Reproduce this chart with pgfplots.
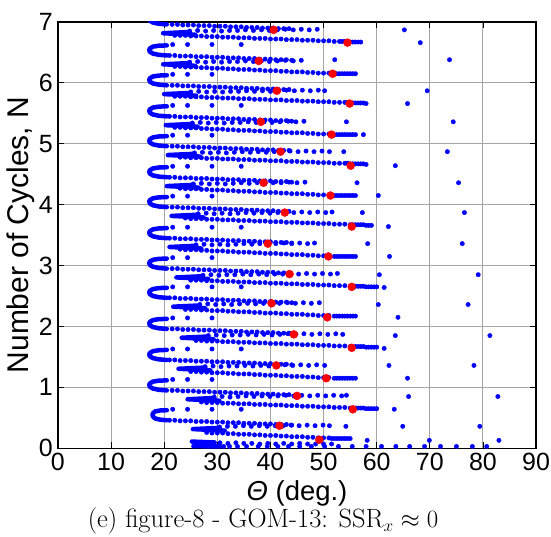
\documentclass[border=0pt]{standalone}
\usepackage{pgfplots}
\pgfplotsset{compat=1.18}
\usepackage{fontspec}
\newfontfamily\arial{Liberation Sans}

\pgfplotsset{
  dots/.style={only marks, mark=*, mark size=2.2pt, color=blue, mark options={fill=blue, draw=blue}, forget plot},
  dense/.style={blue, line width=4.5pt, line cap=round, line join=round, no marks, unbounded coords=jump, forget plot},
}

\begin{document}
\begin{tikzpicture}
\begin{axis}[
    width=479pt, height=427pt, scale only axis,
    xmin=0, xmax=90, ymin=0, ymax=7,
    xtick={0,10,...,90}, ytick={0,1,...,7},
    grid=major,
    major grid style={line width=1pt, color=black!35},
    tick align=inside, major tick length=6pt,
    every tick/.style={black, line width=0.8pt},
    axis line style={line width=1.3pt},
    /pgf/number format/assume math mode=true,
    ticklabel style={font=\arial\fontsize{25}{28}\selectfont, inner sep=1pt},
    xticklabel style={yshift=-4pt},
    yticklabel style={xshift=-4pt},
    xlabel={{\itshape Θ} (deg.)},
    ylabel={Number of Cycles, N},
    xlabel style={font=\arial\fontsize{27.5}{30}\selectfont, inner sep=0pt, at={(axis description cs:0.5,-0.107)}, anchor=center},
    ylabel style={font=\arial\fontsize{30}{33}\selectfont, inner sep=0pt, at={(axis description cs:-0.077,0.5)}, anchor=center},
]

% hooks (left) and tongues, dense parts
\addplot[dense] coordinates {
 (20.5,7.125) (19.0,7.12) (17.9,7.105) (17.3,7.075) (17.2,7.05) (17.3,7.02) (17.9,6.99) (19.0,6.97) (20.5,6.96) (0,nan)
 (20.5,6.615) (19.0,6.61) (17.9,6.595) (17.3,6.565) (17.2,6.54) (17.3,6.51) (17.9,6.48) (19.0,6.46) (20.5,6.45) (0,nan)
 (20.5,6.125) (19.0,6.12) (17.9,6.105) (17.3,6.075) (17.2,6.05) (17.3,6.02) (17.9,5.99) (19.0,5.97) (20.5,5.96) (0,nan)
 (20.5,5.615) (19.0,5.61) (17.9,5.595) (17.3,5.565) (17.2,5.54) (17.3,5.51) (17.9,5.48) (19.0,5.46) (20.5,5.45) (0,nan)
 (20.5,5.125) (19.0,5.12) (17.9,5.105) (17.3,5.075) (17.2,5.05) (17.3,5.02) (17.9,4.99) (19.0,4.97) (20.5,4.96) (0,nan)
 (20.5,4.615) (19.0,4.61) (17.9,4.595) (17.3,4.565) (17.2,4.54) (17.3,4.51) (17.9,4.48) (19.0,4.46) (20.5,4.45) (0,nan)
 (20.5,4.125) (19.0,4.12) (17.9,4.105) (17.3,4.075) (17.2,4.05) (17.3,4.02) (17.9,3.99) (19.0,3.97) (20.5,3.96) (0,nan)
 (20.5,3.615) (19.0,3.61) (17.9,3.595) (17.3,3.565) (17.2,3.54) (17.3,3.51) (17.9,3.48) (19.0,3.46) (20.5,3.45) (0,nan)
 (20.5,3.115) (19.0,3.11) (17.9,3.095) (17.3,3.065) (17.2,3.04) (17.3,3.01) (17.9,2.98) (19.0,2.96) (20.5,2.95) (0,nan)
 (20.5,2.635) (19.0,2.63) (17.9,2.615) (17.3,2.585) (17.2,2.56) (17.3,2.53) (17.9,2.50) (19.0,2.48) (20.5,2.47) (0,nan)
 (20.5,2.125) (19.0,2.12) (17.9,2.105) (17.3,2.075) (17.2,2.05) (17.3,2.02) (17.9,1.99) (19.0,1.97) (20.5,1.96) (0,nan)
 (20.5,1.615) (19.0,1.61) (17.9,1.595) (17.3,1.565) (17.2,1.54) (17.3,1.51) (17.9,1.48) (19.0,1.46) (20.5,1.45) (0,nan)
 (20.5,1.115) (19.0,1.11) (17.9,1.095) (17.3,1.065) (17.2,1.04) (17.3,1.01) (17.9,0.98) (19.0,0.96) (20.5,0.95) (0,nan)
 (20.5,0.625) (19.2,0.62) (18.3,0.605) (17.9,0.575) (17.8,0.55) (17.9,0.52) (18.3,0.49) (19.2,0.47) (20.5,0.46) (0,nan)
 (24.8,6.835) (19.8,6.815) (25.8,6.79) (0,nan)
 (24.8,6.325) (19.8,6.305) (25.8,6.28) (0,nan)
 (25.0,5.835) (20.0,5.815) (26.0,5.79) (0,nan)
 (25.3,5.325) (20.3,5.305) (26.3,5.28) (0,nan)
 (25.7,4.835) (20.7,4.815) (26.7,4.79) (0,nan)
 (25.5,4.325) (20.5,4.305) (26.5,4.28) (0,nan)
 (26.4,3.835) (21.4,3.815) (27.4,3.79) (0,nan)
 (26.0,3.325) (21.0,3.305) (27.0,3.28) (0,nan)
 (27.3,2.825) (22.3,2.805) (28.3,2.78) (0,nan)
 (26.7,2.345) (21.7,2.325) (27.7,2.30) (0,nan)
 (28.3,1.835) (23.3,1.815) (29.3,1.79) (0,nan)
 (27.7,1.325) (22.7,1.305) (28.7,1.28) (0,nan)
 (29.4,0.825) (24.4,0.805) (30.4,0.78) (0,nan)
 (30.4,0.335) (25.4,0.315) (31.4,0.29) (0,nan)
 (25.2,0.11) (29.5,0.095) (0,nan)
 (25.5,0.035) (30.5,0.03)
};

% half-cycle at N ~ 7
\addplot[dots] coordinates {
 (21.5,6.96) (22.5,6.96) (23.5,6.95) (24.5,6.95) (25.5,6.95) (26.5,6.94) (27.5,6.94) (28.5,6.94) (29.5,6.93) (30.5,6.93) (31.5,6.93) (32.5,6.92) (33.5,6.92) (34.5,6.92) (35.5,6.91) (36.5,6.91) (37.5,6.91) (38.5,6.90) (39.5,6.90) (40.5,6.90) (41.5,6.89) (42.5,6.89) (43.5,6.89)
 (24.8,6.85) (26.3,6.86) (27.8,6.85) (29.3,6.86) (30.8,6.85) (32.3,6.86) (33.8,6.86) (35.3,6.87) (36.8,6.86) (38.3,6.87) (39.8,6.86) (41.3,6.87) (42.8,6.88) (44.3,6.87) (45.8,6.88) (47.3,6.87) (48.8,6.88)
 (22,6.78) (23,6.78) (24,6.78) (25,6.77) (26,6.77) (27,6.77) (28,6.76) (29,6.76) (30,6.76) (31,6.75) (32,6.75) (33,6.75) (34,6.74) (35,6.74) (36,6.74) (37,6.73) (38,6.73) (39,6.73) (40,6.72) (41,6.72) (42,6.72) (43,6.71) (44,6.71) (45,6.71) (46,6.70) (47,6.70) (48,6.70) (49,6.69) (50,6.69) (51,6.69) (52,6.68) (53,6.68) (54,6.68) (55,6.67) (56,6.67) (57,6.67) (53.5,6.68) (54.5,6.68) (55.5,6.67) (56.5,6.67)
};
% N ~ 6.5
\addplot[dots] coordinates {
 (21.6,6.63) (24.4,6.63) (29.0,6.63) (34.5,6.63)
 (21,6.45) (22,6.45) (23,6.44) (24,6.44) (25,6.44) (26,6.43) (27,6.43) (28,6.43) (29,6.42) (30,6.42) (31,6.42) (32,6.41) (33,6.41) (34,6.41) (35,6.40) (36,6.40) (37,6.40) (38,6.39) (39,6.39) (40,6.39) (41,6.38) (42,6.38) (43,6.38) (44,6.37)
 (24.8,6.34) (26.3,6.35) (27.8,6.34) (29.3,6.35) (30.8,6.34) (32.3,6.35) (33.8,6.35) (35.3,6.36) (36.8,6.35) (38.3,6.36) (39.8,6.35) (41.3,6.36) (42.8,6.37) (44.3,6.36) (45.8,6.37)
 (22,6.27) (23,6.27) (24,6.26) (25,6.26) (26,6.26) (27,6.25) (28,6.25) (29,6.24) (30,6.24) (31,6.24) (32,6.23) (33,6.23) (34,6.22) (35,6.22) (36,6.22) (37,6.21) (38,6.21) (39,6.20) (40,6.20) (41,6.20) (42,6.19) (43,6.19) (44,6.18) (45,6.18) (46,6.18) (47,6.17) (48,6.17) (49,6.16) (50,6.16) (51,6.16) (52,6.15) (53,6.15) (54,6.15) (55,6.15) (56,6.15) (52.5,6.15) (53.5,6.15) (54.5,6.15) (55.5,6.15)
};
% N ~ 6
\addplot[dots] coordinates {
 (21.6,6.14) (24.4,6.14) (29.0,6.14)
 (21.5,5.96) (22.5,5.96) (23.5,5.95) (24.5,5.95) (25.5,5.95) (26.5,5.94) (27.5,5.94) (28.5,5.94) (29.5,5.93) (30.5,5.93) (31.5,5.93) (32.5,5.92) (33.5,5.92) (34.5,5.92) (35.5,5.91) (36.5,5.91) (37.5,5.91) (38.5,5.90) (39.5,5.90) (40.5,5.90) (41.5,5.89) (42.5,5.89) (43.5,5.89)
 (25.0,5.85) (26.5,5.86) (28.0,5.85) (29.5,5.86) (31.0,5.85) (32.5,5.86) (34.0,5.86) (35.5,5.87) (37.0,5.86) (38.5,5.87) (40.0,5.86) (41.5,5.87) (43.0,5.88) (44.5,5.87) (46.0,5.88) (47.5,5.87) (49.0,5.88) (50.2,5.87)
 (22,5.78) (23,5.78) (24,5.78) (25,5.77) (26,5.77) (27,5.77) (28,5.76) (29,5.76) (30,5.76) (31,5.75) (32,5.75) (33,5.75) (34,5.74) (35,5.74) (36,5.74) (37,5.73) (38,5.73) (39,5.73) (40,5.72) (41,5.72) (42,5.72) (43,5.71) (44,5.71) (45,5.71) (46,5.70) (47,5.70) (48,5.70) (49,5.69) (50,5.69) (51,5.69) (52,5.68) (53,5.68) (54,5.68) (55,5.67) (56,5.67) (57,5.67) (58,5.66) (54.5,5.68) (55.5,5.67) (56.5,5.67) (57.5,5.67)
};
% N ~ 5.5
\addplot[dots] coordinates {
 (21.6,5.63) (24.4,5.63) (29.0,5.63) (34.5,5.63)
 (21,5.45) (22,5.45) (23,5.44) (24,5.44) (25,5.44) (26,5.43) (27,5.43) (28,5.43) (29,5.42) (30,5.42) (31,5.42) (32,5.41) (33,5.41) (34,5.41) (35,5.40) (36,5.40) (37,5.40) (38,5.39) (39,5.39) (40,5.39) (41,5.38) (42,5.38) (43,5.38) (44,5.37)
 (25.3,5.34) (26.8,5.35) (28.3,5.34) (29.8,5.35) (31.3,5.34) (32.8,5.35) (34.3,5.35) (35.8,5.36) (37.3,5.35) (38.8,5.36) (40.3,5.35) (41.8,5.36) (43.3,5.37) (44.8,5.36) (46.3,5.37)
 (22,5.27) (23,5.27) (24,5.26) (25,5.26) (26,5.26) (27,5.25) (28,5.25) (29,5.24) (30,5.24) (31,5.24) (32,5.23) (33,5.23) (34,5.22) (35,5.22) (36,5.22) (37,5.21) (38,5.21) (39,5.20) (40,5.20) (41,5.20) (42,5.19) (43,5.19) (44,5.18) (45,5.18) (46,5.18) (47,5.17) (48,5.17) (49,5.16) (50,5.16) (51,5.16) (52,5.15) (53,5.15) (54,5.15) (55,5.15) (56,5.15) (52.5,5.15) (53.5,5.15) (54.5,5.15) (55.5,5.15)
};
% N ~ 5
\addplot[dots] coordinates {
 (21.6,5.14) (24.4,5.14) (29.0,5.14)
 (21.5,4.96) (22.5,4.96) (23.5,4.95) (24.5,4.95) (25.5,4.95) (26.5,4.94) (27.5,4.94) (28.5,4.94) (29.5,4.93) (30.5,4.93) (31.5,4.93) (32.5,4.92) (33.5,4.92) (34.5,4.92) (35.5,4.91) (36.5,4.91) (37.5,4.91) (38.5,4.90) (39.5,4.90) (40.5,4.90) (41.5,4.89) (42.5,4.89) (43.5,4.89)
 (25.7,4.85) (27.2,4.86) (28.7,4.85) (30.2,4.86) (31.7,4.85) (33.2,4.86) (34.7,4.87) (36.2,4.86) (37.7,4.87) (39.2,4.86) (40.7,4.87) (42.2,4.87) (43.7,4.88) (45.2,4.87) (46.7,4.88) (48.2,4.87) (49.7,4.88) (51.1,4.87)
 (23,4.78) (24,4.78) (25,4.77) (26,4.77) (27,4.77) (28,4.76) (29,4.76) (30,4.76) (31,4.75) (32,4.75) (33,4.75) (34,4.74) (35,4.74) (36,4.74) (37,4.73) (38,4.73) (39,4.73) (40,4.72) (41,4.72) (42,4.72) (43,4.71) (44,4.71) (45,4.71) (46,4.70) (47,4.70) (48,4.70) (49,4.69) (50,4.69) (51,4.69) (52,4.68) (53,4.68) (54,4.68) (55,4.67) (56,4.67) (57,4.67) (58,4.66) (54.5,4.68) (55.5,4.67) (56.5,4.67) (57.5,4.67)
};
% N ~ 4.5
\addplot[dots] coordinates {
 (21.6,4.63) (24.4,4.63) (29.0,4.63) (34.5,4.63)
 (21,4.45) (22,4.45) (23,4.44) (24,4.44) (25,4.44) (26,4.43) (27,4.43) (28,4.43) (29,4.42) (30,4.42) (31,4.42) (32,4.41) (33,4.41) (34,4.41) (35,4.40) (36,4.40) (37,4.40) (38,4.39) (39,4.39) (40,4.39) (41,4.38) (42,4.38) (43,4.38) (44,4.37)
 (25.5,4.34) (27.0,4.35) (28.5,4.34) (30.0,4.35) (31.5,4.34) (33.0,4.35) (34.5,4.36) (36.0,4.35) (37.5,4.36) (39.0,4.35) (40.5,4.36) (42.0,4.36) (43.5,4.37) (45.0,4.36) (46.5,4.37)
 (23,4.27) (24,4.26) (25,4.26) (26,4.26) (27,4.25) (28,4.25) (29,4.24) (30,4.24) (31,4.24) (32,4.23) (33,4.23) (34,4.22) (35,4.22) (36,4.22) (37,4.21) (38,4.21) (39,4.20) (40,4.20) (41,4.20) (42,4.19) (43,4.19) (44,4.18) (45,4.18) (46,4.18) (47,4.17) (48,4.17) (49,4.16) (50,4.16) (51,4.16) (52,4.15) (53,4.15) (54,4.15) (55,4.15) (56,4.15) (52.5,4.15) (53.5,4.15) (54.5,4.15) (55.5,4.15)
};
% N ~ 4
\addplot[dots] coordinates {
 (21.6,4.14) (24.4,4.14) (29.0,4.14)
 (21.5,3.96) (22.5,3.96) (23.5,3.95) (24.5,3.95) (25.5,3.95) (26.5,3.94) (27.5,3.94) (28.5,3.94) (29.5,3.93) (30.5,3.93) (31.5,3.93) (32.5,3.92) (33.5,3.92) (34.5,3.92) (35.5,3.91) (36.5,3.91) (37.5,3.91) (38.5,3.90) (39.5,3.90) (40.5,3.90) (41.5,3.89) (42.5,3.89) (43.5,3.89)
 (26.4,3.85) (27.9,3.86) (29.4,3.85) (30.9,3.86) (32.4,3.85) (33.9,3.86) (35.4,3.87) (36.9,3.86) (38.4,3.87) (39.9,3.86) (41.4,3.87) (42.9,3.88) (44.4,3.87) (45.9,3.88) (47.4,3.87) (48.9,3.88) (50.4,3.87) (51.6,3.88)
 (24,3.78) (25,3.77) (26,3.77) (27,3.77) (28,3.76) (29,3.76) (30,3.76) (31,3.75) (32,3.75) (33,3.75) (34,3.74) (35,3.74) (36,3.74) (37,3.73) (38,3.73) (39,3.73) (40,3.72) (41,3.72) (42,3.72) (43,3.71) (44,3.71) (45,3.71) (46,3.70) (47,3.70) (48,3.70) (49,3.69) (50,3.69) (51,3.69) (52,3.68) (53,3.68) (54,3.68) (55,3.67) (56,3.67) (57,3.67) (58,3.66) (59,3.66) (55.5,3.67) (56.5,3.67) (57.5,3.67) (58.5,3.66)
};
% N ~ 3.5
\addplot[dots] coordinates {
 (21.6,3.63) (24.4,3.63) (29.0,3.63) (34.5,3.63)
 (21,3.45) (22,3.45) (23,3.44) (24,3.44) (25,3.44) (26,3.43) (27,3.43) (28,3.43) (29,3.42) (30,3.42) (31,3.42) (32,3.41) (33,3.41) (34,3.41) (35,3.40) (36,3.40) (37,3.40) (38,3.39) (39,3.39) (40,3.39) (41,3.38) (42,3.38) (43,3.38) (44,3.37)
 (26.0,3.34) (27.5,3.35) (29.0,3.34) (30.5,3.35) (32.0,3.34) (33.5,3.35) (35.0,3.36) (36.5,3.35) (38.0,3.36) (39.5,3.35) (41.0,3.36) (42.5,3.37) (44.0,3.36) (45.5,3.37) (47.0,3.36) (48.3,3.37)
 (23,3.27) (24,3.26) (25,3.26) (26,3.26) (27,3.25) (28,3.25) (29,3.24) (30,3.24) (31,3.24) (32,3.23) (33,3.23) (34,3.22) (35,3.22) (36,3.22) (37,3.21) (38,3.21) (39,3.20) (40,3.20) (41,3.20) (42,3.19) (43,3.19) (44,3.18) (45,3.18) (46,3.18) (47,3.17) (48,3.17) (49,3.16) (50,3.16) (51,3.16) (52,3.15) (53,3.15) (54,3.15) (55,3.15) (56,3.15) (52.5,3.15) (53.5,3.15) (54.5,3.15) (55.5,3.15)
};
% N ~ 3
\addplot[dots] coordinates {
 (21.6,3.13) (24.4,3.13) (29.0,3.13)
 (21.5,2.95) (22.5,2.95) (23.5,2.94) (24.5,2.94) (25.5,2.94) (26.5,2.93) (27.5,2.93) (28.5,2.93) (29.5,2.92) (30.5,2.92) (31.5,2.92) (32.5,2.91) (33.5,2.91) (34.5,2.91) (35.5,2.90) (36.5,2.90) (37.5,2.90) (38.5,2.89) (39.5,2.89) (40.5,2.89) (41.5,2.88) (42.5,2.88) (43.5,2.88)
 (27.3,2.84) (28.8,2.85) (30.3,2.84) (31.8,2.85) (33.3,2.85) (34.8,2.86) (36.3,2.85) (37.8,2.86) (39.3,2.85) (40.8,2.86) (42.3,2.86) (43.8,2.87) (45.3,2.86) (46.8,2.87) (48.3,2.86) (49.8,2.87) (51.3,2.86) (52.6,2.87)
 (25,2.76) (26,2.76) (27,2.76) (28,2.75) (29,2.75) (30,2.75) (31,2.74) (32,2.74) (33,2.74) (34,2.73) (35,2.73) (36,2.73) (37,2.72) (38,2.72) (39,2.72) (40,2.71) (41,2.71) (42,2.71) (43,2.70) (44,2.70) (45,2.70) (46,2.69) (47,2.69) (48,2.69) (49,2.68) (50,2.68) (51,2.68) (52,2.67) (53,2.67) (54,2.67) (55,2.66) (56,2.66) (57,2.66) (58,2.65) (59,2.65) (60,2.65) (56.5,2.66) (57.5,2.66) (58.5,2.65) (59.5,2.65)
};
% N ~ 2.5
\addplot[dots] coordinates {
 (21.6,2.65) (24.4,2.65) (29.0,2.65) (34.5,2.65)
 (21,2.47) (22,2.47) (23,2.46) (24,2.46) (25,2.46) (26,2.45) (27,2.45) (28,2.45) (29,2.44) (30,2.44) (31,2.44) (32,2.43) (33,2.43) (34,2.43) (35,2.42) (36,2.42) (37,2.42) (38,2.41) (39,2.41) (40,2.41) (41,2.40) (42,2.40) (43,2.40) (44,2.39)
 (26.7,2.36) (28.2,2.37) (29.7,2.36) (31.2,2.37) (32.7,2.36) (34.2,2.37) (35.7,2.38) (37.2,2.37) (38.7,2.38) (40.2,2.37) (41.7,2.38) (43.2,2.39) (44.7,2.38) (46.2,2.39) (47.7,2.38) (49.2,2.39)
 (24,2.28) (25,2.28) (26,2.28) (27,2.27) (28,2.27) (29,2.26) (30,2.26) (31,2.26) (32,2.25) (33,2.25) (34,2.24) (35,2.24) (36,2.24) (37,2.23) (38,2.23) (39,2.22) (40,2.22) (41,2.22) (42,2.21) (43,2.21) (44,2.20) (45,2.20) (46,2.20) (47,2.19) (48,2.19) (49,2.18) (50,2.18) (51,2.18) (52,2.17) (53,2.17) (54,2.17) (55,2.17) (56,2.17) (52.5,2.17) (53.5,2.17) (54.5,2.17) (55.5,2.17)
};
% N ~ 2
\addplot[dots] coordinates {
 (21.6,2.14) (24.4,2.14) (29.0,2.14)
 (21.5,1.96) (22.5,1.96) (23.5,1.95) (24.5,1.95) (25.5,1.95) (26.5,1.94) (27.5,1.94) (28.5,1.94) (29.5,1.93) (30.5,1.93) (31.5,1.93) (32.5,1.92) (33.5,1.92) (34.5,1.92) (35.5,1.91) (36.5,1.91) (37.5,1.91) (38.5,1.90) (39.5,1.90) (40.5,1.90) (41.5,1.89) (42.5,1.89) (43.5,1.89)
 (28.3,1.85) (29.8,1.86) (31.3,1.85) (32.8,1.86) (34.3,1.86) (35.8,1.87) (37.3,1.86) (38.8,1.87) (40.3,1.86) (41.8,1.87) (43.3,1.88) (44.8,1.87) (46.3,1.88) (47.8,1.87) (49.3,1.88) (50.8,1.87) (52.3,1.88) (53.6,1.87)
 (26,1.77) (27,1.77) (28,1.76) (29,1.76) (30,1.76) (31,1.75) (32,1.75) (33,1.75) (34,1.74) (35,1.74) (36,1.74) (37,1.73) (38,1.73) (39,1.73) (40,1.72) (41,1.72) (42,1.72) (43,1.71) (44,1.71) (45,1.71) (46,1.70) (47,1.70) (48,1.70) (49,1.69) (50,1.69) (51,1.69) (52,1.68) (53,1.68) (54,1.68) (55,1.67) (56,1.67) (57,1.67) (58,1.66) (59,1.66) (60,1.66) (56.5,1.67) (57.5,1.67) (58.5,1.66) (59.5,1.66)
};
% N ~ 1.5
\addplot[dots] coordinates {
 (21.6,1.63) (24.4,1.63) (29.0,1.63) (34.5,1.63)
 (21,1.45) (22,1.45) (23,1.44) (24,1.44) (25,1.44) (26,1.43) (27,1.43) (28,1.43) (29,1.42) (30,1.42) (31,1.42) (32,1.41) (33,1.41) (34,1.41) (35,1.40) (36,1.40) (37,1.40) (38,1.39) (39,1.39) (40,1.39) (41,1.38) (42,1.38) (43,1.38) (44,1.37)
 (27.7,1.34) (29.2,1.35) (30.7,1.34) (32.2,1.35) (33.7,1.35) (35.2,1.36) (36.7,1.35) (38.2,1.36) (39.7,1.35) (41.2,1.36) (42.7,1.37) (44.2,1.36) (45.7,1.37) (47.2,1.36) (48.7,1.37) (50.2,1.36)
 (25,1.26) (26,1.26) (27,1.25) (28,1.25) (29,1.24) (30,1.24) (31,1.24) (32,1.23) (33,1.23) (34,1.22) (35,1.22) (36,1.22) (37,1.21) (38,1.21) (39,1.20) (40,1.20) (41,1.20) (42,1.19) (43,1.19) (44,1.18) (45,1.18) (46,1.18) (47,1.17) (48,1.17) (49,1.16) (50,1.16) (51,1.16) (52,1.15) (53,1.15) (54,1.15) (55,1.15) (56,1.15) (52.5,1.15) (53.5,1.15) (54.5,1.15) (55.5,1.15)
};
% N ~ 1
\addplot[dots] coordinates {
 (21.6,1.13) (24.4,1.13) (29.0,1.13)
 (21.5,0.95) (22.5,0.95) (23.5,0.94) (24.5,0.94) (25.5,0.94) (26.5,0.93) (27.5,0.93) (28.5,0.93) (29.5,0.92) (30.5,0.92) (31.5,0.92) (32.5,0.91) (33.5,0.91) (34.5,0.91) (35.5,0.90) (36.5,0.90) (37.5,0.90) (38.5,0.89) (39.5,0.89) (40.5,0.89) (41.5,0.88) (42.5,0.88) (43.5,0.88)
 (29.4,0.84) (30.9,0.85) (32.4,0.84) (33.9,0.85) (35.4,0.86) (36.9,0.85) (38.4,0.86) (39.9,0.85) (41.4,0.86) (42.9,0.87) (44.4,0.86) (45.9,0.87) (47.4,0.86) (48.9,0.87) (50.4,0.86) (51.9,0.87) (53.4,0.86) (54.3,0.87)
 (27,0.76) (28,0.75) (29,0.75) (30,0.75) (31,0.74) (32,0.74) (33,0.74) (34,0.73) (35,0.73) (36,0.73) (37,0.72) (38,0.72) (39,0.72) (40,0.71) (41,0.71) (42,0.71) (43,0.70) (44,0.70) (45,0.70) (46,0.69) (47,0.69) (48,0.69) (49,0.68) (50,0.68) (51,0.68) (52,0.67) (53,0.67) (54,0.67) (55,0.66) (56,0.66) (57,0.66) (58,0.65) (59,0.65) (60,0.65) (56.5,0.66) (57.5,0.66) (58.5,0.65) (59.5,0.65)
};
% N ~ 0.5
\addplot[dots] coordinates {
 (21.6,0.64) (24.4,0.64) (29.0,0.64) (34.5,0.64)
 (21,0.46) (22,0.46) (23,0.45) (24,0.45) (25,0.45) (26,0.44) (27,0.44) (28,0.44) (29,0.43) (30,0.43) (31,0.43) (32,0.42) (33,0.42) (34,0.42) (35,0.41) (36,0.41) (37,0.41) (38,0.40) (39,0.40) (40,0.40) (41,0.39) (42,0.39) (43,0.39) (44,0.38)
 (30.4,0.35) (31.9,0.36) (33.4,0.36) (34.9,0.37) (36.4,0.36) (37.9,0.37) (39.4,0.36) (40.9,0.37) (42.4,0.37) (43.9,0.38) (45.4,0.37) (46.9,0.38) (48.4,0.37) (49.9,0.38) (51.1,0.37)
 (28,0.26) (29,0.25) (30,0.25) (31,0.25) (32,0.24) (33,0.24) (34,0.23) (35,0.23) (36,0.23) (37,0.22) (38,0.22) (39,0.21) (40,0.21) (41,0.21) (42,0.20) (43,0.20) (44,0.19) (45,0.19) (46,0.19) (47,0.18) (48,0.18) (49,0.17) (50,0.17) (51,0.17) (52,0.16) (53,0.16) (54,0.16) (55,0.16) (51.5,0.16) (52.5,0.16) (53.5,0.16) (54.5,0.16)
};
% start of the run, near N = 0
\addplot[dots] coordinates {
 (30.5,0.09) (32,0.08) (33.5,0.09) (35,0.08) (36.5,0.08) (38,0.07) (39.5,0.08) (41,0.07) (42.5,0.08) (44,0.07) (45.5,0.08) (47,0.07) (48.5,0.07) (50,0.07) (51.5,0.07)
 (31.2,0.03) (32.3,0.03) (33.8,0.03) (35.5,0.03) (37.7,0.03) (39.4,0.03) (41.4,0.03) (43.4,0.03) (45.5,0.03) (47.7,0.03) (50.2,0.03) (52.8,0.03) (55.4,0.03) (58,0.03) (60.9,0.03) (63.6,0.03) (66.2,0.03) (69,0.03) (72,0.03) (75,0.03) (78,0.03) (80.7,0.03)
};
% isolated far points
\addplot[dots] coordinates {
 (65.2,6.87) (68.2,6.66) (52.1,6.38) (73.7,6.38) (69.5,5.87) (65.8,5.66) (54.3,5.36) (74.4,5.36) (57.5,5.15)
 (53.8,4.87) (73.3,4.87) (63.5,4.64) (56.3,4.36) (75.4,4.36) (60.3,4.15) (57.3,3.87) (76.5,3.87) (62.2,3.64)
 (58.3,3.36) (76.1,3.36) (62.4,3.15) (60.5,2.85) (79.1,2.85) (61.4,2.64) (60.3,2.36) (77.2,2.36) (64.0,2.15)
 (63.5,1.85) (81.3,1.85) (61.4,1.64) (62.3,1.36) (78.3,1.36) (65.8,1.15) (66.0,0.85) (82.8,0.85) (63.3,0.64)
 (54.2,0.36) (64.9,0.36) (79.4,0.36) (58.2,0.13) (69.9,0.13) (83.0,0.13)
};

% red markers
\addplot[only marks, mark=*, mark size=4pt, color=red, mark options={fill=red, draw=red}, forget plot] coordinates {
 (40.6,6.87) (54.5,6.66) (37.8,6.36) (51.7,6.15) (41.2,5.87) (54.9,5.66) (38.2,5.36) (51.5,5.15)
 (41.9,4.87) (55.1,4.64) (38.7,4.36) (51.3,4.15) (42.7,3.87) (55.3,3.64) (39.5,3.36) (50.9,3.15)
 (43.6,2.86) (55.3,2.65) (40.2,2.38) (50.7,2.15) (44.4,1.87) (55.3,1.65) (41.1,1.36) (50.5,1.15)
 (45.0,0.86) (55.5,0.64) (41.7,0.37) (49.2,0.14)
};
\end{axis}
\node[font=\fontsize{26.5}{30}\selectfont, inner sep=0pt] at ([xshift=-34pt,yshift=-73pt]current axis.south) {(e) figure-8 - GOM-13: $\mathrm{SSR}_x \approx 0$};
\path ([xshift=-58pt,yshift=-88pt]current axis.south west) rectangle ([xshift=14pt,yshift=22pt]current axis.north east);
\end{tikzpicture}
\end{document}
